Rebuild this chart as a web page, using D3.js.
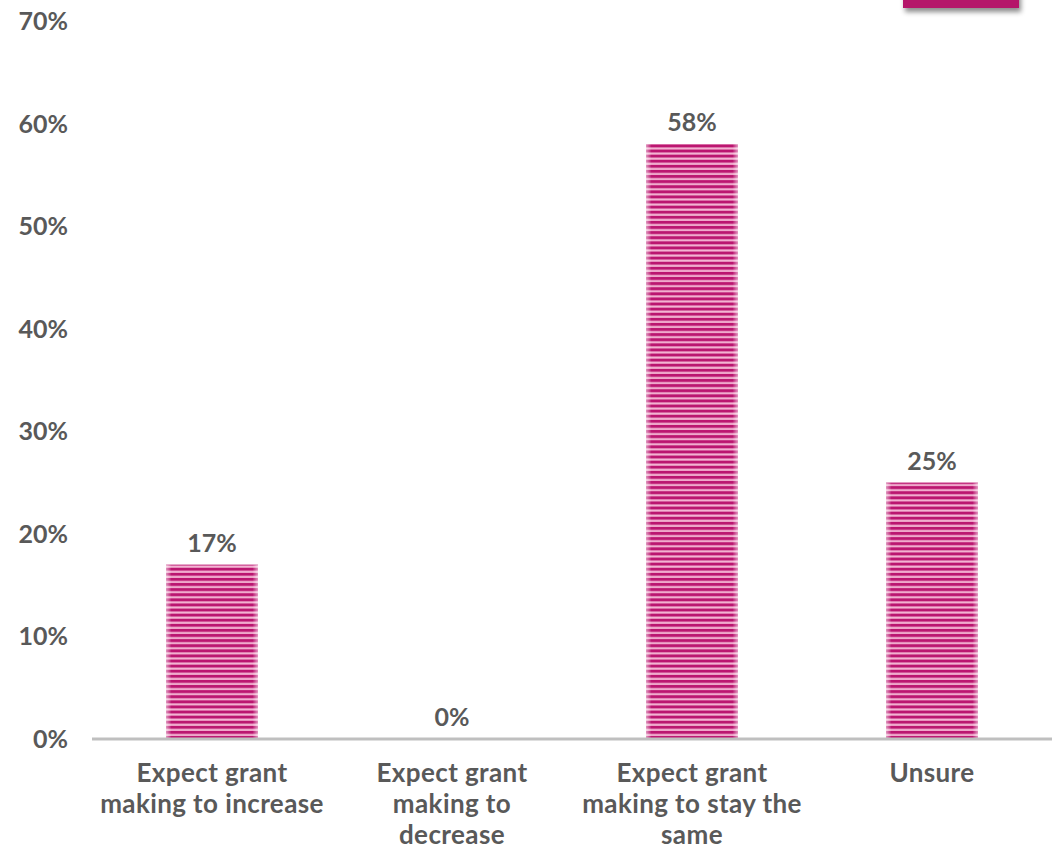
<!DOCTYPE html>
<html>
<head>
<meta charset="utf-8">
<script src="https://d3js.org/d3.v7.min.js"></script>
<style>
  body { margin: 0; background: #fff; }
  text { font-family: Lato, "Open Sans", sans-serif; font-weight: bold; fill: #595959; }
</style>
</head>
<body>
<div id="vis"></div>
<script>
  // chart data
  const categories = [
    ['Expect grant', 'making to increase'],
    ['Expect grant', 'making to', 'decrease'],
    ['Expect grant', 'making to stay the', 'same'],
    ['Unsure']
  ]
  const values = [17, 0, 58, 25]
  const yTicks = [0, 10, 20, 30, 40, 50, 60, 70]

  const width = 1052, height = 849
  const svg = d3.select('#vis').append('svg')
    .attr('width', width)
    .attr('height', height)

  const defs = svg.append('defs')

  // striped fill for the bars
  const pat = defs.append('pattern')
    .attr('id', 'stripes')
    .attr('patternUnits', 'userSpaceOnUse')
    .attr('width', 10)
    .attr('height', 5.1)
  pat.append('rect').attr('width', 10).attr('height', 5.1).attr('fill', '#f4b6d4')
  pat.append('rect').attr('y', 1.6).attr('width', 10).attr('height', 3).attr('fill', '#bb1670')

  // soft edge shading on bars
  const grad = defs.append('linearGradient').attr('id', 'edge')
  grad.append('stop').attr('offset', '0%').attr('stop-color', '#fff').attr('stop-opacity', 0.55)
  grad.append('stop').attr('offset', '6%').attr('stop-color', '#fff').attr('stop-opacity', 0)
  grad.append('stop').attr('offset', '94%').attr('stop-color', '#fff').attr('stop-opacity', 0)
  grad.append('stop').attr('offset', '100%').attr('stop-color', '#fff').attr('stop-opacity', 0.55)

  const shadow = defs.append('filter').attr('id', 'shadow')
    .attr('x', '-10%').attr('y', '-50%').attr('width', '130%').attr('height', '300%')
  shadow.append('feDropShadow')
    .attr('dx', 2).attr('dy', 4).attr('stdDeviation', 2.5)
    .attr('flood-color', '#000').attr('flood-opacity', 0.45)

  const x = d3.scaleBand()
    .domain(d3.range(categories.length))
    .range([92, 1052])
    .paddingInner(0.617)
    .paddingOuter(0.3085)

  const y = d3.scaleLinear()
    .domain([0, 70])
    .range([739, 21])

  // y tick labels (no axis line)
  svg.selectAll('.ytick')
    .data(yTicks)
    .enter()
    .append('text')
    .attr('class', 'ytick')
    .attr('x', 68)
    .attr('y', d => y(d))
    .attr('dy', '0.36em')
    .attr('text-anchor', 'end')
    .style('font-size', '25px')
    .text(d => d + '%')

  // bars
  const bars = svg.selectAll('.bar')
    .data(values)
    .enter()
    .append('g')
    .attr('class', 'bar')

  bars.append('rect')
    .attr('x', (d, i) => x(i))
    .attr('y', d => y(d))
    .attr('width', x.bandwidth())
    .attr('height', d => y(0) - y(d))
    .attr('fill', 'url(#stripes)')

  bars.append('rect')
    .attr('x', (d, i) => x(i))
    .attr('y', d => y(d))
    .attr('width', x.bandwidth())
    .attr('height', d => y(0) - y(d))
    .attr('fill', 'url(#edge)')

  // x axis baseline
  svg.append('line')
    .attr('x1', 92).attr('x2', 1052)
    .attr('y1', y(0)).attr('y2', y(0))
    .attr('stroke', '#bfbfbf')
    .attr('stroke-width', 3)

  // value labels
  svg.selectAll('.val')
    .data(values)
    .enter()
    .append('text')
    .attr('class', 'val')
    .attr('x', (d, i) => x(i) + x.bandwidth() / 2)
    .attr('y', d => y(d) - 13)
    .attr('text-anchor', 'middle')
    .style('font-size', '25px')
    .text(d => d + '%')

  // category labels
  const cat = svg.selectAll('.cat')
    .data(categories)
    .enter()
    .append('text')
    .attr('class', 'cat')
    .attr('text-anchor', 'middle')
    .style('font-size', '26px')
    .style('letter-spacing', '0.4px')

  cat.selectAll('tspan')
    .data((d, i) => d.map(line => ({ line, i })))
    .enter()
    .append('tspan')
    .attr('x', d => x(d.i) + x.bandwidth() / 2)
    .attr('y', (d, j) => 782 + j * 31)
    .text(d => d.line)

  // legend swatch peeking in at the top right
  svg.append('rect')
    .attr('x', 903).attr('y', -10)
    .attr('width', 116).attr('height', 18)
    .attr('fill', '#b5136b')
    .attr('filter', 'url(#shadow)')
</script>
</body>
</html>
